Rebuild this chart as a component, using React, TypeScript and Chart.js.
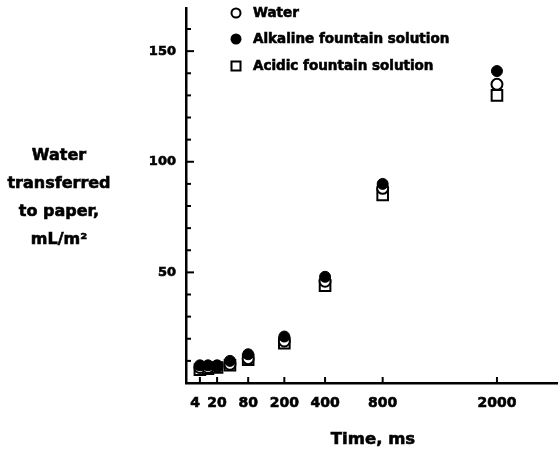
import React, { useEffect, useRef } from 'react';
import { Chart, registerables } from 'chart.js';

Chart.register(...registerables);

// ---- data ----
const timesMs = [4, 10, 20, 40, 80, 200, 400, 800, 2000];
const water = [7, 7, 7.5, 8.5, 11, 19, 46, 88, 135];
const alkaline = [8, 8, 8, 10, 13, 21, 48, 90, 141];
const acidic = [6, 6.5, 7, 8, 10.5, 18, 44, 85, 130];

const xTickValues = [4, 20, 80, 200, 400, 800, 2000];
const yTickValues = [50, 100, 150];
const yMinorTickValues = [10, 20, 30, 40, 50, 60, 70, 80, 90, 100, 110, 120, 130, 140, 150, 160];
const legendLabels = ['Water', 'Alkaline fountain solution', 'Acidic fountain solution'];
const yTitleLines = ['Water', 'transferred', 'to paper,', 'mL/m²'];
const xTitle = 'Time, ms';

const FONT = "'DejaVu Sans', 'Liberation Sans', sans-serif";

const toPts = (vals: number[]) => timesMs.map((t, i) => ({ x: Math.sqrt(t), y: vals[i] }));

const boldText = (ctx: CanvasRenderingContext2D, text: string, x: number, y: number) => {
  ctx.lineWidth = 0.6;
  ctx.strokeStyle = '#000';
  ctx.strokeText(text, x, y);
  ctx.fillText(text, x, y);
};

const decorPlugin = {
  id: 'decor',
  afterDraw(chart: any) {
    const ctx = chart.ctx as CanvasRenderingContext2D;
    const xs = chart.scales.x;
    const ys = chart.scales.y;
    const area = chart.chartArea;
    ctx.save();
    ctx.strokeStyle = '#000';
    ctx.fillStyle = '#000';
    ctx.lineWidth = 2;
    // y tick marks, pointing into the plot
    yMinorTickValues.forEach((v) => {
      const py = ys.getPixelForValue(v);
      const len = v % 50 === 0 ? 8 : 5;
      ctx.beginPath();
      ctx.moveTo(area.left, py);
      ctx.lineTo(area.left + len, py);
      ctx.stroke();
    });
    // x tick marks, pointing up
    xTickValues.forEach((v) => {
      const px = xs.getPixelForValue(Math.sqrt(v));
      ctx.beginPath();
      ctx.moveTo(px, area.bottom);
      ctx.lineTo(px, area.bottom - 6);
      ctx.stroke();
    });

    // y title (horizontal, multi-line)
    ctx.font = `bold 16px ${FONT}`;
    ctx.textAlign = 'center';
    ctx.textBaseline = 'middle';
    const yTitleTop = 156;
    yTitleLines.forEach((line, i) => {
      boldText(ctx, line, 59, yTitleTop + i * 28);
    });

    // x title
    ctx.font = `bold 16.5px ${FONT}`;
    boldText(ctx, xTitle, 373, 440);

    // legend
    ctx.font = `bold 13.5px ${FONT}`;
    ctx.textAlign = 'left';
    const rows = [13, 39, 66];
    legendLabels.forEach((label, i) => {
      const cy = rows[i];
      const cx = 236;
      ctx.lineWidth = 2;
      ctx.strokeStyle = '#000';
      ctx.beginPath();
      if (i === 0) {
        ctx.arc(cx, cy, 4.5, 0, Math.PI * 2);
        ctx.fillStyle = '#fff';
        ctx.fill();
        ctx.stroke();
      } else if (i === 1) {
        ctx.arc(cx, cy, 5.5, 0, Math.PI * 2);
        ctx.fillStyle = '#000';
        ctx.fill();
      } else {
        ctx.rect(cx - 4.5, cy - 4.5, 9, 9);
        ctx.fillStyle = '#fff';
        ctx.fill();
        ctx.stroke();
      }
      ctx.fillStyle = '#000';
      boldText(ctx, label, 253, cy);
    });
    ctx.restore();
  },
};

export default function App() {
  const canvasRef = useRef<HTMLCanvasElement | null>(null);

  useEffect(() => {
    if (!canvasRef.current) return;
    const chart = new Chart(canvasRef.current, {
      type: 'scatter',
      data: {
        datasets: [
          {
            label: legendLabels[0],
            data: toPts(water),
            pointStyle: 'circle',
            pointRadius: 5.5,
            pointBackgroundColor: '#fff',
            pointBorderColor: '#000',
            pointBorderWidth: 2,
            order: 1,
          },
          {
            label: legendLabels[1],
            data: toPts(alkaline),
            pointStyle: 'circle',
            pointRadius: 5.5,
            pointBackgroundColor: '#000',
            pointBorderColor: '#000',
            pointBorderWidth: 1,
            order: 0,
          },
          {
            label: legendLabels[2],
            data: toPts(acidic),
            pointStyle: 'rect',
            pointRadius: 7.5,
            pointBackgroundColor: '#fff',
            pointBorderColor: '#000',
            pointBorderWidth: 2,
            order: 2,
          },
        ],
      },
      options: {
        animation: false,
        responsive: false,
        layout: { autoPadding: false, padding: { top: 8, right: 0, left: 0, bottom: 0 } },
        plugins: {
          legend: { display: false },
          tooltip: { enabled: false },
          title: { display: false },
        },
        scales: {
          x: {
            type: 'linear',
            min: 0,
            max: 53.5,
            afterBuildTicks: (s: any) => {
              s.ticks = xTickValues.map((v) => ({ value: Math.sqrt(v) }));
            },
            afterFit: (s: any) => {
              s.height = 70;
              s.paddingLeft = 0;
              s.paddingRight = 0;
            },
            grid: { display: false, drawTicks: false },
            border: { display: true, color: '#000', width: 2.5 },
            ticks: {
              color: '#000',
              padding: 12,
              maxRotation: 0,
              autoSkip: false,
              textStrokeColor: '#000',
              textStrokeWidth: 0.6,
              font: { family: FONT, size: 14, weight: 'bold' },
              callback: (v: any, i: number) => {
                const label = String(Math.round(Number(v) * Number(v)));
                return i === 0 ? label + '  ' : label;
              },
            },
          },
          y: {
            type: 'linear',
            min: 0,
            max: 169.5,
            afterBuildTicks: (s: any) => {
              s.ticks = yTickValues.map((v) => ({ value: v }));
            },
            afterFit: (s: any) => {
              s.width = 186;
              s.paddingTop = 0;
              s.paddingBottom = 0;
            },
            grid: { display: false, drawTicks: false },
            border: { display: true, color: '#000', width: 2.5 },
            ticks: {
              color: '#000',
              padding: 10,
              autoSkip: false,
              textStrokeColor: '#000',
              textStrokeWidth: 0.6,
              font: { family: FONT, size: 13, weight: 'bold' },
              callback: (v: any) => String(v),
            },
          },
        },
      } as any,
      plugins: [decorPlugin],
    });
    return () => chart.destroy();
  }, []);

  return (
    <div style={{ position: 'absolute', left: 0, top: 0, width: 558, height: 453, background: '#fff' }}>
      <canvas ref={canvasRef} width={558} height={453} style={{ display: 'block' }} />
    </div>
  );
}
